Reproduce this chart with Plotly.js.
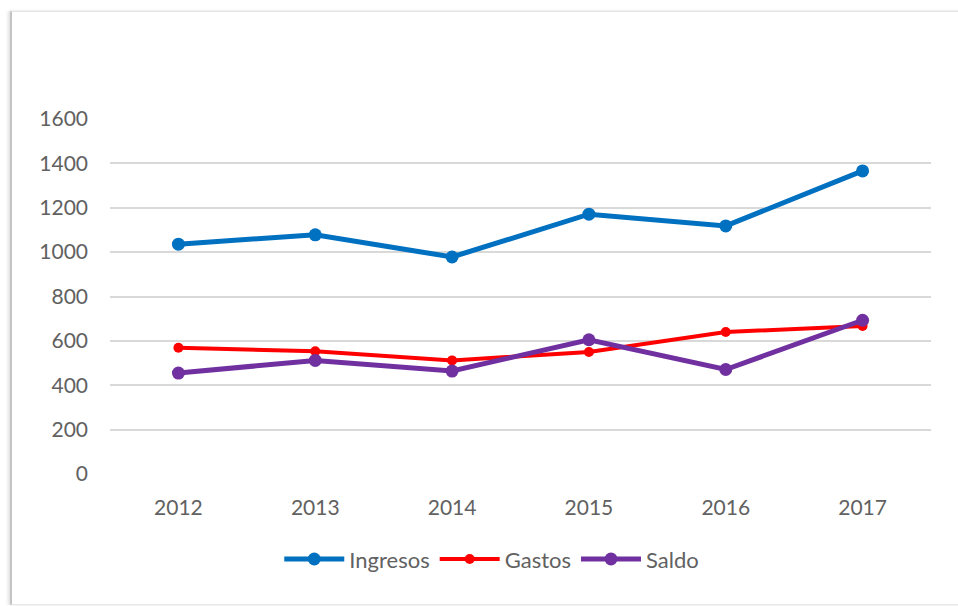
<!DOCTYPE html>
<html>
<head>
<meta charset="utf-8">
<script src="https://cdn.plot.ly/plotly-3.0.1.min.js"></script>
<style>
  html, body { margin: 0; padding: 0; background: #ffffff; }
  #wrap { position: relative; width: 958px; height: 606px; overflow: hidden; }
  #chart { position: absolute; left: 0; top: 0; width: 958px; height: 606px; }
  #frame { position: absolute; left: 10px; top: 11px; width: 1000px; height: 592px;
           border-left: 2px solid #c4c4c4; border-top: 1px solid #e2e2e2; border-bottom: 1px solid #e6e6e6;
           box-shadow: -2px 0 3px rgba(0,0,0,0.12); pointer-events: none; }
</style>
</head>
<body>
<div id="wrap">
  <div id="chart"></div>
  <div id="frame"></div>
</div>
<script>
const years = ["2012", "2013", "2014", "2015", "2016", "2017"];
const ingresos = [1036, 1078, 978, 1171, 1118, 1366];
const gastos = [569, 553, 512, 550, 640, 667];
const saldo = [455, 512, 464, 605, 471, 693];
const yTicks = [0, 200, 400, 600, 800, 1000, 1200, 1400, 1600];

const fontFam = "Lato, 'Open Sans', sans-serif";
const txtColor = "#616161";
const traces = [
  { x: years, y: ingresos, name: "Ingresos", type: "scatter", mode: "lines+markers",
    line: { color: "#0070C0", width: 5 }, marker: { color: "#0070C0", size: 13 } },
  { x: years, y: gastos, name: "Gastos", type: "scatter", mode: "lines+markers",
    line: { color: "#FF0000", width: 4 }, marker: { color: "#FF0000", size: 10 } },
  { x: years, y: saldo, name: "Saldo", type: "scatter", mode: "lines+markers",
    line: { color: "#7030A0", width: 5 }, marker: { color: "#7030A0", size: 13 } }
];

const layout = {
  width: 958, height: 606,
  paper_bgcolor: "rgba(0,0,0,0)", plot_bgcolor: "rgba(0,0,0,0)",
  margin: { l: 110, r: 27, t: 119, b: 132 },
  font: { family: fontFam, size: 21, color: txtColor },
  showlegend: true,
  legend: { orientation: "h", x: 0.465, xanchor: "center", y: -0.24, yanchor: "middle",
            font: { family: fontFam, size: 22, color: txtColor }, itemwidth: 60, traceorder: "normal" },
  xaxis: { type: "category", range: [-0.5, 5.5], showgrid: false, zeroline: false, showline: false,
           ticks: "", tickfont: { family: fontFam, size: 21, color: txtColor }, ticklabelstandoff: 19 },
  yaxis: { range: [0, 1600], tickvals: yTicks, ticktext: yTicks.map(String), showgrid: true,
           gridcolor: "#d9d9d9", gridwidth: 2, zeroline: false, showline: false, ticks: "",
           tickfont: { family: fontFam, size: 21, color: txtColor }, ticklabelstandoff: 21 }
};

Plotly.newPlot("chart", traces, layout, { displayModeBar: false, staticPlot: true });
</script>
</body>
</html>
